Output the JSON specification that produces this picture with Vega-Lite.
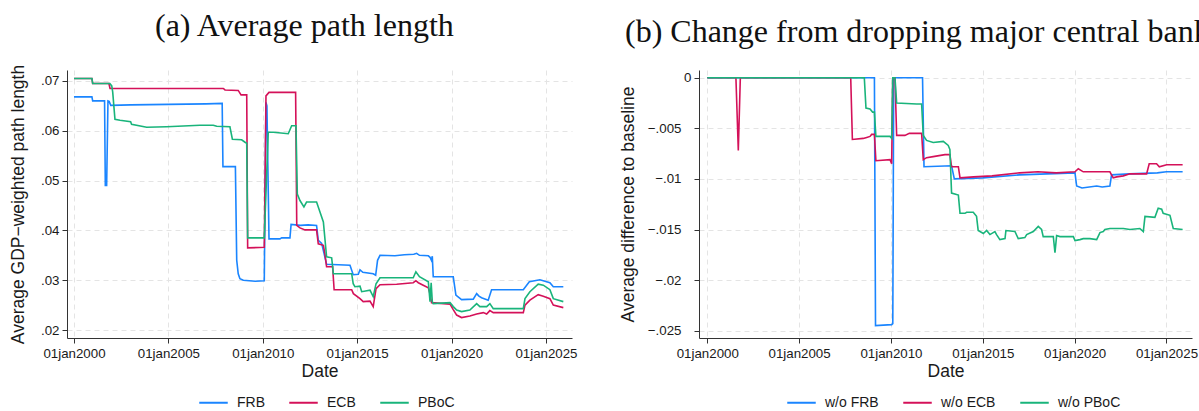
{
  "$schema": "https://vega.github.io/schema/vega-lite/v6.json",
  "background": "white",
  "autosize": {"type": "none"},
  "padding": {"left": 67, "top": 70, "right": 1132, "bottom": 341},
  "bounds": "flush",
  "spacing": 127,
  "config": {
    "view": {"stroke": null},
    "font": "Liberation Sans",
    "axis": {
      "labelFont": "Liberation Sans", "labelFontSize": 13.3, "labelColor": "#1a1a1a",
      "titleFont": "Liberation Sans", "titleFontSize": 17.5, "titleFontWeight": "normal", "titleColor": "#1a1a1a",
      "domainColor": "#333333", "tickColor": "#333333", "tickSize": 5, "domainWidth": 1, "tickWidth": 1,
      "gridColor": "#e4e4e4", "gridDash": [5, 4], "gridWidth": 1, "labelPadding": 3,
      "labelFlush": false, "labelOverlap": false, "labelBound": false
    },
    "title": {"font": "Liberation Serif", "fontSize": 32, "fontWeight": "normal", "color": "#111111", "anchor": "start", "frame": "group", "baseline": "alphabetic", "offset": 21},
    "legend": {
      "orient": "none", "direction": "horizontal", "labelFont": "Liberation Sans", "labelFontSize": 14,
      "labelColor": "#1a1a1a", "symbolType": "stroke", "symbolSize": 812, "symbolStrokeWidth": 2,
      "columnPadding": 20, "labelOffset": 8
    }
  },
  "datasets": {
    "a": [
      {"s":"FRB","d":2000.0,"v":0.0668},{"s":"FRB","d":2000.95,"v":0.0668},{"s":"FRB","d":2000.99,"v":0.0660},{"s":"FRB","d":2001.62,"v":0.0660},
      {"s":"FRB","d":2001.66,"v":0.0490},{"s":"FRB","d":2001.73,"v":0.0490},{"s":"FRB","d":2001.80,"v":0.0660},{"s":"FRB","d":2001.86,"v":0.0659},
      {"s":"FRB","d":2001.95,"v":0.0651},{"s":"FRB","d":2003.0,"v":0.0652},{"s":"FRB","d":2005.0,"v":0.0653},{"s":"FRB","d":2007.0,"v":0.0654},
      {"s":"FRB","d":2007.85,"v":0.0655},{"s":"FRB","d":2007.89,"v":0.0528},{"s":"FRB","d":2008.55,"v":0.0528},{"s":"FRB","d":2008.62,"v":0.0340},
      {"s":"FRB","d":2008.70,"v":0.0313},{"s":"FRB","d":2008.79,"v":0.0303},{"s":"FRB","d":2008.97,"v":0.0300},{"s":"FRB","d":2009.6,"v":0.0298},
      {"s":"FRB","d":2010.08,"v":0.0299},{"s":"FRB","d":2010.17,"v":0.0657},{"s":"FRB","d":2010.22,"v":0.0650},{"s":"FRB","d":2010.33,"v":0.0383},
      {"s":"FRB","d":2010.91,"v":0.0383},{"s":"FRB","d":2011.0,"v":0.0385},{"s":"FRB","d":2011.44,"v":0.0385},{"s":"FRB","d":2011.50,"v":0.0412},
      {"s":"FRB","d":2012.0,"v":0.0410},{"s":"FRB","d":2012.4,"v":0.0411},{"s":"FRB","d":2012.85,"v":0.0410},{"s":"FRB","d":2012.94,"v":0.0380},
      {"s":"FRB","d":2013.12,"v":0.0374},{"s":"FRB","d":2013.3,"v":0.0345},{"s":"FRB","d":2013.38,"v":0.0332},{"s":"FRB","d":2014.0,"v":0.0331},
      {"s":"FRB","d":2014.62,"v":0.0330},{"s":"FRB","d":2014.79,"v":0.0311},{"s":"FRB","d":2015.06,"v":0.0312},{"s":"FRB","d":2015.15,"v":0.0321},
      {"s":"FRB","d":2015.3,"v":0.0316},{"s":"FRB","d":2015.85,"v":0.0313},{"s":"FRB","d":2015.98,"v":0.0310},{"s":"FRB","d":2016.08,"v":0.0340},
      {"s":"FRB","d":2016.21,"v":0.0350},{"s":"FRB","d":2017.0,"v":0.0349},{"s":"FRB","d":2017.5,"v":0.0351},{"s":"FRB","d":2018.0,"v":0.0352},
      {"s":"FRB","d":2018.15,"v":0.0354},{"s":"FRB","d":2018.3,"v":0.0350},{"s":"FRB","d":2018.77,"v":0.0349},{"s":"FRB","d":2018.86,"v":0.0346},
      {"s":"FRB","d":2018.93,"v":0.0340},{"s":"FRB","d":2018.98,"v":0.0348},{"s":"FRB","d":2019.03,"v":0.0307},{"s":"FRB","d":2020.09,"v":0.0307},
      {"s":"FRB","d":2020.23,"v":0.0270},{"s":"FRB","d":2020.53,"v":0.0261},{"s":"FRB","d":2021.15,"v":0.0262},{"s":"FRB","d":2021.33,"v":0.0273},
      {"s":"FRB","d":2021.45,"v":0.0268},{"s":"FRB","d":2021.59,"v":0.0265},{"s":"FRB","d":2021.94,"v":0.0260},{"s":"FRB","d":2022.12,"v":0.0281},
      {"s":"FRB","d":2023.8,"v":0.0281},{"s":"FRB","d":2024.12,"v":0.0297},{"s":"FRB","d":2024.68,"v":0.0301},{"s":"FRB","d":2025.21,"v":0.0295},
      {"s":"FRB","d":2025.39,"v":0.0287},{"s":"FRB","d":2025.92,"v":0.0287},

      {"s":"ECB","d":2000.0,"v":0.0705},{"s":"ECB","d":2000.95,"v":0.0705},{"s":"ECB","d":2000.99,"v":0.0695},{"s":"ECB","d":2001.85,"v":0.0695},
      {"s":"ECB","d":2001.91,"v":0.0685},{"s":"ECB","d":2005.0,"v":0.0685},{"s":"ECB","d":2007.91,"v":0.0685},{"s":"ECB","d":2008.0,"v":0.0682},
      {"s":"ECB","d":2008.7,"v":0.0681},{"s":"ECB","d":2008.85,"v":0.0672},{"s":"ECB","d":2009.15,"v":0.0672},{"s":"ECB","d":2009.2,"v":0.0365},
      {"s":"ECB","d":2010.08,"v":0.0366},{"s":"ECB","d":2010.17,"v":0.0670},{"s":"ECB","d":2010.33,"v":0.0677},{"s":"ECB","d":2011.74,"v":0.0677},
      {"s":"ECB","d":2011.8,"v":0.0410},{"s":"ECB","d":2011.97,"v":0.0405},{"s":"ECB","d":2012.24,"v":0.0401},{"s":"ECB","d":2012.85,"v":0.0401},
      {"s":"ECB","d":2012.94,"v":0.0373},{"s":"ECB","d":2013.21,"v":0.0370},{"s":"ECB","d":2013.29,"v":0.0353},{"s":"ECB","d":2013.38,"v":0.0327},
      {"s":"ECB","d":2013.7,"v":0.0327},{"s":"ECB","d":2013.78,"v":0.0281},{"s":"ECB","d":2014.71,"v":0.0281},{"s":"ECB","d":2014.8,"v":0.0273},
      {"s":"ECB","d":2015.15,"v":0.0263},{"s":"ECB","d":2015.32,"v":0.0257},{"s":"ECB","d":2015.68,"v":0.0258},{"s":"ECB","d":2015.85,"v":0.0247},
      {"s":"ECB","d":2016.0,"v":0.0283},{"s":"ECB","d":2016.21,"v":0.0291},{"s":"ECB","d":2017.09,"v":0.0292},{"s":"ECB","d":2017.97,"v":0.0295},
      {"s":"ECB","d":2018.11,"v":0.0299},{"s":"ECB","d":2018.24,"v":0.0295},{"s":"ECB","d":2018.5,"v":0.0290},{"s":"ECB","d":2018.77,"v":0.0285},
      {"s":"ECB","d":2018.86,"v":0.0273},{"s":"ECB","d":2018.94,"v":0.0255},{"s":"ECB","d":2019.92,"v":0.0252},{"s":"ECB","d":2020.09,"v":0.0241},
      {"s":"ECB","d":2020.27,"v":0.0230},{"s":"ECB","d":2020.53,"v":0.0225},{"s":"ECB","d":2020.97,"v":0.0228},{"s":"ECB","d":2021.33,"v":0.0232},
      {"s":"ECB","d":2021.68,"v":0.0235},{"s":"ECB","d":2021.86,"v":0.0232},{"s":"ECB","d":2022.03,"v":0.0239},{"s":"ECB","d":2022.21,"v":0.0235},
      {"s":"ECB","d":2023.8,"v":0.0235},{"s":"ECB","d":2023.89,"v":0.0250},{"s":"ECB","d":2024.15,"v":0.0260},{"s":"ECB","d":2024.59,"v":0.0271},
      {"s":"ECB","d":2024.86,"v":0.0268},{"s":"ECB","d":2025.21,"v":0.0263},{"s":"ECB","d":2025.39,"v":0.0250},{"s":"ECB","d":2025.92,"v":0.0245},

      {"s":"PBoC","d":2000.0,"v":0.0705},{"s":"PBoC","d":2000.95,"v":0.0705},{"s":"PBoC","d":2000.99,"v":0.0695},{"s":"PBoC","d":2001.9,"v":0.0695},
      {"s":"PBoC","d":2002.0,"v":0.0690},{"s":"PBoC","d":2002.05,"v":0.0678},{"s":"PBoC","d":2002.17,"v":0.0623},{"s":"PBoC","d":2002.44,"v":0.0621},
      {"s":"PBoC","d":2003.0,"v":0.0618},{"s":"PBoC","d":2003.05,"v":0.0613},{"s":"PBoC","d":2003.85,"v":0.0607},{"s":"PBoC","d":2004.91,"v":0.0608},
      {"s":"PBoC","d":2006.67,"v":0.0611},{"s":"PBoC","d":2007.38,"v":0.0611},{"s":"PBoC","d":2007.56,"v":0.0609},{"s":"PBoC","d":2008.26,"v":0.0608},
      {"s":"PBoC","d":2008.39,"v":0.0583},{"s":"PBoC","d":2008.88,"v":0.0582},{"s":"PBoC","d":2009.06,"v":0.0577},{"s":"PBoC","d":2009.15,"v":0.0575},
      {"s":"PBoC","d":2009.2,"v":0.0385},{"s":"PBoC","d":2010.08,"v":0.0385},{"s":"PBoC","d":2010.29,"v":0.0597},{"s":"PBoC","d":2010.56,"v":0.0597},
      {"s":"PBoC","d":2011.35,"v":0.0594},{"s":"PBoC","d":2011.53,"v":0.0610},{"s":"PBoC","d":2011.76,"v":0.0610},{"s":"PBoC","d":2011.83,"v":0.0473},
      {"s":"PBoC","d":2011.97,"v":0.0460},{"s":"PBoC","d":2012.18,"v":0.0447},{"s":"PBoC","d":2012.32,"v":0.0457},{"s":"PBoC","d":2012.85,"v":0.0457},
      {"s":"PBoC","d":2013.03,"v":0.0437},{"s":"PBoC","d":2013.21,"v":0.0417},{"s":"PBoC","d":2013.38,"v":0.0347},{"s":"PBoC","d":2013.65,"v":0.0345},
      {"s":"PBoC","d":2013.74,"v":0.0313},{"s":"PBoC","d":2014.71,"v":0.0313},{"s":"PBoC","d":2014.79,"v":0.0293},{"s":"PBoC","d":2014.88,"v":0.0287},
      {"s":"PBoC","d":2015.15,"v":0.0288},{"s":"PBoC","d":2015.24,"v":0.0277},{"s":"PBoC","d":2015.68,"v":0.0280},{"s":"PBoC","d":2015.85,"v":0.0267},
      {"s":"PBoC","d":2016.0,"v":0.0293},{"s":"PBoC","d":2016.21,"v":0.0305},{"s":"PBoC","d":2017.97,"v":0.0305},{"s":"PBoC","d":2018.11,"v":0.0317},
      {"s":"PBoC","d":2018.3,"v":0.0307},{"s":"PBoC","d":2018.77,"v":0.0297},{"s":"PBoC","d":2018.86,"v":0.0257},{"s":"PBoC","d":2018.92,"v":0.0295},
      {"s":"PBoC","d":2018.98,"v":0.0257},{"s":"PBoC","d":2019.03,"v":0.0253},{"s":"PBoC","d":2019.92,"v":0.0255},{"s":"PBoC","d":2020.09,"v":0.0247},
      {"s":"PBoC","d":2020.27,"v":0.0240},{"s":"PBoC","d":2020.53,"v":0.0237},{"s":"PBoC","d":2020.97,"v":0.0240},{"s":"PBoC","d":2021.33,"v":0.0253},
      {"s":"PBoC","d":2021.5,"v":0.0247},{"s":"PBoC","d":2021.86,"v":0.0247},{"s":"PBoC","d":2022.03,"v":0.0253},{"s":"PBoC","d":2022.21,"v":0.0243},
      {"s":"PBoC","d":2023.8,"v":0.0243},{"s":"PBoC","d":2023.89,"v":0.0263},{"s":"PBoC","d":2024.15,"v":0.0277},{"s":"PBoC","d":2024.59,"v":0.0292},
      {"s":"PBoC","d":2024.86,"v":0.0290},{"s":"PBoC","d":2025.21,"v":0.0281},{"s":"PBoC","d":2025.39,"v":0.0263},{"s":"PBoC","d":2025.92,"v":0.0257}
    ],
    "b": [
      {"s":"w/o FRB","d":2000.0,"v":0},{"s":"w/o FRB","d":2009.1,"v":0},{"s":"w/o FRB","d":2009.16,"v":-0.0245},{"s":"w/o FRB","d":2010.04,"v":-0.0244},
      {"s":"w/o FRB","d":2010.1,"v":-0.0243},{"s":"w/o FRB","d":2010.15,"v":0},{"s":"w/o FRB","d":2011.72,"v":0},{"s":"w/o FRB","d":2011.8,"v":-0.0088},
      {"s":"w/o FRB","d":2013.3,"v":-0.0087},{"s":"w/o FRB","d":2013.45,"v":-0.0100},{"s":"w/o FRB","d":2015.0,"v":-0.0099},{"s":"w/o FRB","d":2017.0,"v":-0.0096},
      {"s":"w/o FRB","d":2018.5,"v":-0.0095},{"s":"w/o FRB","d":2020.02,"v":-0.0094},{"s":"w/o FRB","d":2020.11,"v":-0.0107},{"s":"w/o FRB","d":2020.4,"v":-0.0109},
      {"s":"w/o FRB","d":2021.2,"v":-0.0107},{"s":"w/o FRB","d":2021.5,"v":-0.0108},{"s":"w/o FRB","d":2021.92,"v":-0.0107},{"s":"w/o FRB","d":2022.01,"v":-0.0096},
      {"s":"w/o FRB","d":2023.0,"v":-0.0095},{"s":"w/o FRB","d":2024.5,"v":-0.0094},{"s":"w/o FRB","d":2025.0,"v":-0.0093},{"s":"w/o FRB","d":2025.88,"v":-0.0093},

      {"s":"w/o ECB","d":2000.0,"v":0},{"s":"w/o ECB","d":2001.56,"v":0},{"s":"w/o ECB","d":2001.69,"v":-0.0072},{"s":"w/o ECB","d":2001.8,"v":0},
      {"s":"w/o ECB","d":2007.81,"v":0},{"s":"w/o ECB","d":2007.9,"v":-0.0061},{"s":"w/o ECB","d":2008.49,"v":-0.0060},{"s":"w/o ECB","d":2008.68,"v":-0.0059},
      {"s":"w/o ECB","d":2008.86,"v":-0.0058},{"s":"w/o ECB","d":2008.95,"v":-0.0056},{"s":"w/o ECB","d":2009.1,"v":-0.0056},{"s":"w/o ECB","d":2009.18,"v":-0.0082},
      {"s":"w/o ECB","d":2009.95,"v":-0.0081},{"s":"w/o ECB","d":2010.04,"v":-0.0085},{"s":"w/o ECB","d":2010.1,"v":0},{"s":"w/o ECB","d":2010.22,"v":0},
      {"s":"w/o ECB","d":2010.31,"v":-0.0057},{"s":"w/o ECB","d":2010.76,"v":-0.0057},{"s":"w/o ECB","d":2011.0,"v":-0.0055},{"s":"w/o ECB","d":2011.67,"v":-0.0055},
      {"s":"w/o ECB","d":2011.76,"v":-0.0081},{"s":"w/o ECB","d":2011.94,"v":-0.0079},{"s":"w/o ECB","d":2012.3,"v":-0.0078},{"s":"w/o ECB","d":2012.94,"v":-0.0076},
      {"s":"w/o ECB","d":2013.21,"v":-0.0076},{"s":"w/o ECB","d":2013.3,"v":-0.0088},{"s":"w/o ECB","d":2013.67,"v":-0.0088},{"s":"w/o ECB","d":2013.76,"v":-0.0099},
      {"s":"w/o ECB","d":2014.5,"v":-0.0098},{"s":"w/o ECB","d":2015.5,"v":-0.0097},{"s":"w/o ECB","d":2017.0,"v":-0.0094},{"s":"w/o ECB","d":2018.0,"v":-0.0093},
      {"s":"w/o ECB","d":2019.0,"v":-0.0094},{"s":"w/o ECB","d":2020.02,"v":-0.0093},{"s":"w/o ECB","d":2020.2,"v":-0.0090},{"s":"w/o ECB","d":2020.47,"v":-0.0093},
      {"s":"w/o ECB","d":2021.92,"v":-0.0093},{"s":"w/o ECB","d":2022.1,"v":-0.0099},{"s":"w/o ECB","d":2022.29,"v":-0.0098},{"s":"w/o ECB","d":2022.65,"v":-0.0097},
      {"s":"w/o ECB","d":2023.01,"v":-0.0095},{"s":"w/o ECB","d":2023.92,"v":-0.0095},{"s":"w/o ECB","d":2024.06,"v":-0.0085},{"s":"w/o ECB","d":2024.46,"v":-0.0085},
      {"s":"w/o ECB","d":2024.61,"v":-0.0088},{"s":"w/o ECB","d":2025.01,"v":-0.0086},{"s":"w/o ECB","d":2025.88,"v":-0.0086},

      {"s":"w/o PBoC","d":2000.0,"v":0},{"s":"w/o PBoC","d":2008.55,"v":0},{"s":"w/o PBoC","d":2008.64,"v":-0.0030},{"s":"w/o PBoC","d":2008.86,"v":-0.0031},
      {"s":"w/o PBoC","d":2009.0,"v":-0.0034},{"s":"w/o PBoC","d":2009.1,"v":-0.0034},{"s":"w/o PBoC","d":2009.18,"v":-0.0058},{"s":"w/o PBoC","d":2009.95,"v":-0.0058},
      {"s":"w/o PBoC","d":2010.04,"v":-0.0060},{"s":"w/o PBoC","d":2010.1,"v":0},{"s":"w/o PBoC","d":2010.22,"v":0},{"s":"w/o PBoC","d":2010.31,"v":-0.0025},
      {"s":"w/o PBoC","d":2011.4,"v":-0.0026},{"s":"w/o PBoC","d":2011.67,"v":-0.0026},{"s":"w/o PBoC","d":2011.76,"v":-0.0057},{"s":"w/o PBoC","d":2011.94,"v":-0.0062},
      {"s":"w/o PBoC","d":2012.3,"v":-0.0064},{"s":"w/o PBoC","d":2012.85,"v":-0.0063},{"s":"w/o PBoC","d":2013.12,"v":-0.0067},{"s":"w/o PBoC","d":2013.21,"v":-0.0071},
      {"s":"w/o PBoC","d":2013.3,"v":-0.0114},{"s":"w/o PBoC","d":2013.67,"v":-0.0116},{"s":"w/o PBoC","d":2013.76,"v":-0.0134},{"s":"w/o PBoC","d":2014.03,"v":-0.0134},
      {"s":"w/o PBoC","d":2014.12,"v":-0.0133},{"s":"w/o PBoC","d":2014.48,"v":-0.0133},{"s":"w/o PBoC","d":2014.66,"v":-0.0137},{"s":"w/o PBoC","d":2014.75,"v":-0.0151},
      {"s":"w/o PBoC","d":2015.03,"v":-0.0154},{"s":"w/o PBoC","d":2015.21,"v":-0.0151},{"s":"w/o PBoC","d":2015.39,"v":-0.0155},{"s":"w/o PBoC","d":2015.66,"v":-0.0152},
      {"s":"w/o PBoC","d":2015.75,"v":-0.0155},{"s":"w/o PBoC","d":2015.93,"v":-0.0160},{"s":"w/o PBoC","d":2016.21,"v":-0.0159},{"s":"w/o PBoC","d":2016.26,"v":-0.0151},
      {"s":"w/o PBoC","d":2016.75,"v":-0.0152},{"s":"w/o PBoC","d":2016.93,"v":-0.0159},{"s":"w/o PBoC","d":2017.29,"v":-0.0158},{"s":"w/o PBoC","d":2017.39,"v":-0.0155},
      {"s":"w/o PBoC","d":2017.75,"v":-0.0152},{"s":"w/o PBoC","d":2018.02,"v":-0.0147},{"s":"w/o PBoC","d":2018.2,"v":-0.0150},{"s":"w/o PBoC","d":2018.29,"v":-0.0157},
      {"s":"w/o PBoC","d":2018.84,"v":-0.0157},{"s":"w/o PBoC","d":2018.93,"v":-0.0173},{"s":"w/o PBoC","d":2019.02,"v":-0.0156},{"s":"w/o PBoC","d":2019.2,"v":-0.0157},
      {"s":"w/o PBoC","d":2019.93,"v":-0.0157},{"s":"w/o PBoC","d":2020.02,"v":-0.0161},{"s":"w/o PBoC","d":2020.29,"v":-0.0160},{"s":"w/o PBoC","d":2020.47,"v":-0.0159},
      {"s":"w/o PBoC","d":2020.83,"v":-0.0159},{"s":"w/o PBoC","d":2021.2,"v":-0.0160},{"s":"w/o PBoC","d":2021.38,"v":-0.0153},{"s":"w/o PBoC","d":2021.56,"v":-0.0152},
      {"s":"w/o PBoC","d":2021.65,"v":-0.0150},{"s":"w/o PBoC","d":2021.92,"v":-0.0149},{"s":"w/o PBoC","d":2022.65,"v":-0.0149},{"s":"w/o PBoC","d":2023.01,"v":-0.0150},
      {"s":"w/o PBoC","d":2023.55,"v":-0.0149},{"s":"w/o PBoC","d":2023.74,"v":-0.0152},{"s":"w/o PBoC","d":2023.83,"v":-0.0137},{"s":"w/o PBoC","d":2024.37,"v":-0.0138},
      {"s":"w/o PBoC","d":2024.55,"v":-0.0129},{"s":"w/o PBoC","d":2024.74,"v":-0.0130},{"s":"w/o PBoC","d":2024.82,"v":-0.0134},{"s":"w/o PBoC","d":2025.19,"v":-0.0136},
      {"s":"w/o PBoC","d":2025.37,"v":-0.0149},{"s":"w/o PBoC","d":2025.88,"v":-0.0150}
    ]
  },
  "hconcat": [
    {
      "width": 505, "height": 268,
      "title": {"text": "(a) Average path length", "dx": 88},
      "data": {"name": "a"},
      "mark": {"type": "line", "strokeWidth": 1.6, "clip": true},
      "encoding": {
        "x": {"field": "d", "type": "quantitative", "scale": {"domain": [1999.63, 2026.38], "nice": false, "zero": false},
          "axis": {"values": [2000, 2005, 2010, 2015, 2020, 2025], "labelExpr": "'01jan' + datum.value", "title": "Date", "grid": true, "titlePadding": 3}},
        "y": {"field": "v", "type": "quantitative", "scale": {"domain": [0.0184, 0.0722], "nice": false, "zero": false},
          "axis": {"values": [0.02, 0.03, 0.04, 0.05, 0.06, 0.07], "labelExpr": "replace(format(datum.value, '.2f'), '0.', '.')", "title": "Average GDP−weighted path length", "grid": true, "titlePadding": 13}},
        "color": {"field": "s", "type": "nominal", "sort": ["FRB", "ECB", "PBoC"],
          "scale": {"domain": ["FRB", "ECB", "PBoC"], "range": ["#1a85ff", "#d41159", "#19b47b"]},
          "legend": {"title": null, "legendX": 131, "legendY": 317}}
      }
    },
    {
      "width": 493, "height": 268,
      "title": {"text": "(b) Change from dropping major central bank", "dx": -74},
      "data": {"name": "b"},
      "mark": {"type": "line", "strokeWidth": 1.6, "clip": true},
      "encoding": {
        "x": {"field": "d", "type": "quantitative", "scale": {"domain": [1999.55, 2026.39], "nice": false, "zero": false},
          "axis": {"values": [2000, 2005, 2010, 2015, 2020, 2025], "labelExpr": "'01jan' + datum.value", "title": "Date", "grid": true, "titlePadding": 3}},
        "y": {"field": "v", "type": "quantitative", "scale": {"domain": [-0.02572, 0.00076], "nice": false, "zero": false},
          "axis": {"values": [0, -0.005, -0.01, -0.015, -0.02, -0.025], "labelExpr": "datum.value == 0 ? '0' : replace(format(datum.value, '.3~f'), '0.', '.')",
            "labelPadding": {"condition": {"test": "datum.value == 0", "value": 3}, "value": 13},
            "title": "Average difference to baseline", "grid": true, "titlePadding": 10}},
        "color": {"field": "s", "type": "nominal", "sort": ["w/o FRB", "w/o ECB", "w/o PBoC"],
          "scale": {"domain": ["w/o FRB", "w/o ECB", "w/o PBoC"], "range": ["#1a85ff", "#d41159", "#19b47b"]},
          "legend": {"title": null, "legendX": 87, "legendY": 317}}
      }
    }
  ],
  "resolve": {"scale": {"color": "independent", "x": "independent", "y": "independent"}, "legend": {"color": "independent"}}
}
